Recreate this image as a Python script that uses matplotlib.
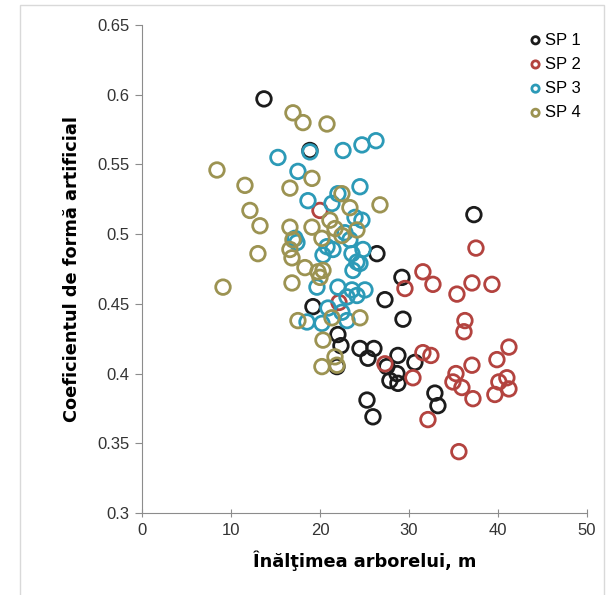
import matplotlib
matplotlib.use("Agg")
import matplotlib.pyplot as plt
from matplotlib.patches import Rectangle

# SP 1
sp1_x = [13.69, 18.86, 26.40, 37.31, 27.30, 29.21, 29.33, 19.20, 22.01, 22.35, 21.90, 24.49,
         26.06, 25.39, 28.76, 27.52, 28.65, 27.86, 28.76, 30.67, 25.28, 25.95, 32.92, 33.26]
sp1_y = [0.597, 0.560, 0.486, 0.514, 0.453, 0.469, 0.439, 0.448, 0.428, 0.420, 0.405, 0.418,
         0.418, 0.411, 0.413, 0.405, 0.400, 0.395, 0.393, 0.408, 0.381, 0.369, 0.386, 0.377]

# SP 2
sp2_x = [19.99, 22.13, 27.30, 29.55, 31.57, 32.70, 37.54, 37.09, 39.34, 35.40, 36.30, 36.19,
         31.57, 32.47, 30.45, 37.09, 35.29, 34.95, 35.96, 39.90, 41.25, 41.02, 40.12, 41.25,
         39.67, 37.20, 32.14, 35.62]
sp2_y = [0.517, 0.451, 0.407, 0.461, 0.473, 0.464, 0.490, 0.465, 0.464, 0.457, 0.438, 0.430,
         0.415, 0.413, 0.397, 0.406, 0.400, 0.394, 0.390, 0.410, 0.419, 0.397, 0.394, 0.389,
         0.385, 0.382, 0.367, 0.344]

# SP 3
sp3_x = [15.26, 17.51, 18.86, 18.64, 22.58, 24.71, 26.29, 22.01, 24.49, 21.34, 23.93, 24.71,
         17.18, 22.80, 23.36, 20.33, 21.45, 23.59, 24.83, 24.15, 23.70, 24.49, 19.65, 22.01,
         23.59, 25.05, 24.15, 23.03, 20.89, 22.46, 23.03, 18.53, 20.21, 17.40, 20.78]
sp3_y = [0.555, 0.545, 0.559, 0.524, 0.560, 0.564, 0.567, 0.529, 0.534, 0.522, 0.512, 0.510,
         0.497, 0.501, 0.496, 0.485, 0.489, 0.486, 0.489, 0.480, 0.474, 0.479, 0.462, 0.462,
         0.460, 0.460, 0.456, 0.455, 0.447, 0.444, 0.438, 0.437, 0.436, 0.494, 0.491]

# SP 4
sp4_x = [8.40, 11.55, 12.11, 13.24, 13.01, 9.08, 16.95, 18.08, 20.78, 16.61, 19.09, 22.46,
         23.36, 26.74, 16.61, 19.09, 21.11, 21.68, 20.21, 22.46, 24.15, 16.95, 16.61, 16.84,
         18.30, 19.76, 20.33, 19.99, 16.84, 17.51, 21.34, 24.49, 20.33, 21.68, 20.21, 21.90]
sp4_y = [0.546, 0.535, 0.517, 0.506, 0.486, 0.462, 0.587, 0.580, 0.579, 0.533, 0.540, 0.529,
         0.519, 0.521, 0.505, 0.505, 0.510, 0.504, 0.497, 0.499, 0.503, 0.496, 0.489, 0.483,
         0.476, 0.473, 0.474, 0.469, 0.465, 0.438, 0.440, 0.440, 0.424, 0.412, 0.405, 0.406]

series = [("SP 1", sp1_x, sp1_y, "#1c1c1c"),
          ("SP 2", sp2_x, sp2_y, "#b3433f"),
          ("SP 3", sp3_x, sp3_y, "#2c9ab7"),
          ("SP 4", sp4_x, sp4_y, "#9c9352")]

fig = plt.figure(figsize=(6.11, 5.95), dpi=100)
ax = fig.add_axes([0.2329, 0.1378, 0.7273, 0.8202])

for name, xs, ys, col in series:
    ax.scatter(xs, ys, s=110, facecolors="none", edgecolors=col, linewidths=2.0,
               label=name, zorder=3)

ax.set_xlim(0, 50)
ax.set_ylim(0.3, 0.65)
ax.set_xticks(range(0, 51, 10))
ax.set_yticks([0.3, 0.35, 0.4, 0.45, 0.5, 0.55, 0.6, 0.65])
ax.set_yticklabels(["0.3", "0.35", "0.4", "0.45", "0.5", "0.55", "0.6", "0.65"])
for sp in ["top", "right"]:
    ax.spines[sp].set_visible(False)
for sp in ["left", "bottom"]:
    ax.spines[sp].set_color("#8c8c8c")
ax.tick_params(axis="y", direction="out", length=5, color="#8c8c8c", labelsize=12,
               labelcolor="#333333", pad=4)
ax.tick_params(axis="x", direction="inout", length=6, color="#8c8c8c", labelsize=12,
               labelcolor="#333333", pad=4)
for lab in ax.get_xticklabels() + ax.get_yticklabels():
    lab.set_family("Liberation Sans")

ax.set_xlabel("Înălţimea arborelui, m", fontsize=12.8, fontweight="bold", labelpad=9)
ax.set_ylabel("Coeficientul de formă artificial", fontsize=12.8, fontweight="bold", labelpad=12)

leg = ax.legend(loc="upper right", bbox_to_anchor=(1.02, 1.015), frameon=False,
                prop={"family": "Liberation Sans", "size": 12},
                handletextpad=0.05, labelspacing=0.55, markerscale=0.5, handlelength=1.0)

# outer chart border
fig.patches.append(Rectangle((20 / 611, -0.02), 584 / 611, 1.0 - 5 / 595 + 0.02,
                             transform=fig.transFigure, fill=False,
                             edgecolor="#d9d9d9", linewidth=1))

fig.savefig("out.png", dpi=100)
